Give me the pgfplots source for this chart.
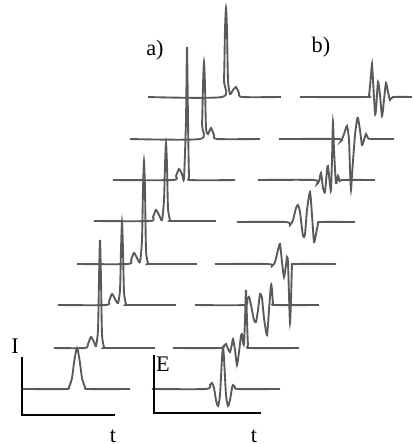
\documentclass[border=0pt]{standalone}
\usepackage{fontspec}
\setmainfont{Liberation Serif}
\usepackage{pgfplots}
\pgfplotsset{compat=1.18}
\definecolor{trace}{HTML}{5A5A5A}

\begin{document}
\begin{tikzpicture}
\begin{axis}[
  name=main,
  width=6.21cm, height=6.66cm, scale only axis,
  xmin=0, xmax=414, ymin=0, ymax=444, y dir=reverse,
  axis lines=none, clip=false,
  tr/.style={color=trace, line width=0.8pt, smooth, tension=0.4, mark=none},
  fr/.style={black, line width=0.6pt, sharp plot, mark=none},
]
% ---- panel a) : intensity traces, stacked
\addplot[tr] coordinates {(23,389) (66,389) (69,387) (72,378) (74,363) (76,351) (77,348) (78,351) (80,363) (82,378) (85,387) (88,389) (130,389)};
\addplot[tr] coordinates {(54,348) (85,348) (88,344) (91,337) (94,342) (96,346) (98,330) (99,280) (100,240) (101,280) (102,334) (104,347) (106,348) (155,348)};
\addplot[tr] coordinates {(58,305) (106,305) (109,301) (112,294) (115,299) (118,303) (120,290) (121,250) (122,222) (123,250) (124,292) (126,304) (128,305) (176,305)};
\addplot[tr] coordinates {(77,264) (128,264) (131,260) (134,253) (137,258) (140,262) (142,240) (143,190) (144,161) (145,190) (146,250) (148,263) (150,264) (197,264)};
\addplot[tr] coordinates {(94,221) (150,221) (153,217) (156,210) (159,215) (162,220) (164,200) (165,165) (166,143) (167,165) (168,208) (170,220) (172,221) (216,221)};
\addplot[tr] coordinates {(113,180) (173,180) (176,176) (179,169) (182,174) (184,178) (186,120) (187,47) (188,120) (189,175) (191,180) (235,180)};
\addplot[tr] coordinates {(130,139) (200,139) (202,125) (203,85) (204,62) (205,85) (206,128) (208,134) (211,128) (214,135) (217,139) (260,139)};
\addplot[tr] coordinates {(148,97) (222,97) (224,80) (225,30) (226,8) (227,30) (228,80) (230,94) (233,90) (236,87) (239,93) (242,97) (281,97)};
% ---- panel b) : field traces, stacked
\addplot[tr] coordinates {(152,389) (206,389) (210,385) (212,383) (214,388) (216,400) (218,406) (220,395) (222,358) (223,348) (224,358) (226,395) (228,406) (230,400) (232,388) (233,385) (235,387) (238,389) (280,389)};
\addplot[tr] coordinates {(173,348) (220,348) (224,346) (226,344) (228,349) (230,352) (232,344) (233,339) (235,350) (237,365) (239,352) (241,336) (242,334) (243,342) (244,344) (245,320) (246,290) (247,320) (248,345) (250,348) (299,348)};
\addplot[tr] coordinates {(195,305) (244,305) (247,300) (249,297) (251,305) (254,320) (256,322) (258,310) (260,294) (262,298) (264,318) (267,335) (269,310) (271,285) (272,290) (273,303) (275,305) (319,305)};
\addplot[tr] coordinates {(215,264) (268,264) (272,266) (275,262) (278,250) (280,244) (282,262) (284,277) (286,265) (287,257) (288,262) (289,295) (290,323) (291,300) (292,266) (294,264) (336,264)};
\addplot[tr] coordinates {(237,222) (286,222) (290,225) (293,220) (296,208) (298,205) (300,212) (303,236) (305,234) (307,210) (310,192) (312,215) (314,242) (316,234) (318,224) (320,222) (355,222)};
\addplot[tr] coordinates {(258,180) (314,180) (317,184) (319,181) (321,173) (323,188) (325,192) (327,170) (328,166) (330,185) (331,190) (332,160) (333,122) (334,150) (336,183) (338,176) (340,182) (342,180) (375,180)};
\addplot[tr] coordinates {(279,139) (338,139) (341,141) (344,134) (347,126) (349,140) (350,170) (351,190) (352,175) (355,135) (357,120) (358,118) (360,130) (362,145) (364,140) (366,134) (368,138) (371,139) (394,139)};
\addplot[tr] coordinates {(300,97) (366,97) (369,95) (371,75) (372,64) (373,80) (375,113) (376,110) (378,82) (380,95) (382,116) (384,100) (386,83) (388,92) (390,100) (393,97) (412,97)};
% ---- small coordinate frames
\addplot[fr] coordinates {(22,357) (22,415) (115,415)};
\addplot[fr] coordinates {(154,355) (154,413) (261,413)};
% ---- labels
\node[font=\fontsize{9.5}{10}\selectfont] at (axis cs:15,346) {I};
\node[font=\fontsize{9.5}{10}\selectfont] at (axis cs:113,436) {t};
\node[font=\fontsize{9.5}{10}\selectfont] at (axis cs:163,364) {E};
\node[font=\fontsize{9.5}{10}\selectfont] at (axis cs:254,436) {t};
\node[font=\fontsize{9.5}{10}\selectfont] at (axis cs:155,50) {a)};
\node[font=\fontsize{9.5}{10}\selectfont] at (axis cs:321,47) {b)};
\end{axis}
\pgfresetboundingbox
\path (main.south west) rectangle (main.north east);
\end{tikzpicture}
\end{document}
